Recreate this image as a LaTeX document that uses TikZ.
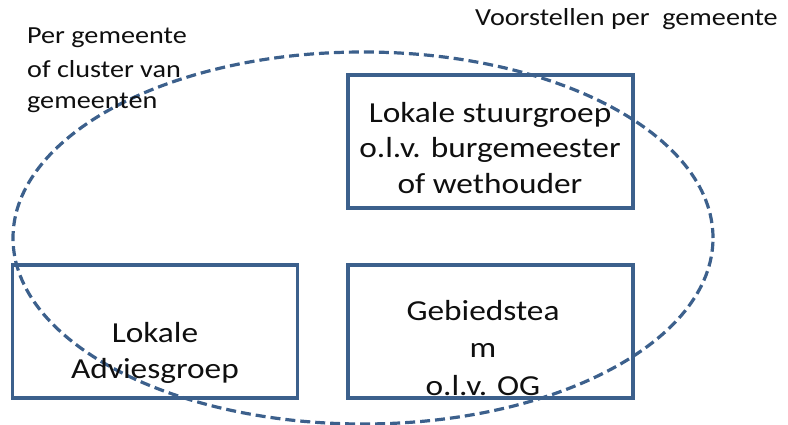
\documentclass[tikz,border=0pt]{standalone}
\usepackage{fontspec}
\setmainfont{Carlito}[FakeStretch=1.15]
\definecolor{frame}{RGB}{60,96,140}
\definecolor{ink}{RGB}{15,15,15}
\begin{document}
\begin{tikzpicture}[x=1pt,y=-1pt,
  boxnode/.style={draw=frame, line width=3.2pt, inner sep=0pt},
  boxtext/.style={anchor=base, inner sep=0pt, font=\fontsize{29}{34}\selectfont, text=ink},
  sidetext/.style={anchor=base west, inner sep=0pt, font=\fontsize{24.5}{28}\selectfont, text=ink}]
\useasboundingbox (0,0) rectangle (788,424);
\draw[frame, line width=3.2pt, dash pattern=on 10pt off 5pt] (363,238) ellipse [x radius=350pt, y radius=186pt];
\node[boxnode, minimum width=285pt, minimum height=133pt] (stuur) at (490.5,141.5) {};
\node[boxnode, minimum width=285pt, minimum height=133pt] (advies) at (155,331.5) {};
\node[boxnode, minimum width=285pt, minimum height=133pt] (gebied) at (490.5,331.5) {};
\node[boxtext] (s1) at (490,122) {Lokale stuurgroep};
\node[boxtext] (s2) at (490,157) {o.l.v. burgemeester};
\node[boxtext] (s3) at (490,193) {of wethouder};
\node[boxtext] (a1) at (155,342) {Lokale};
\node[boxtext] (a2) at (155,378) {Adviesgroep};
\node[boxtext] (g1) at (483,320) {Gebiedstea};
\node[boxtext] (g2) at (483,357) {m};
\node[boxtext] (g3) at (483,395) {o.l.v. OG};
\node[sidetext] (p1) at (27,43) {Per gemeente};
\node[sidetext] (p2) at (27,77) {of cluster van};
\node[sidetext] (p3) at (27,108) {gemeenten};
\node[sidetext] (v1) at (475,25) {Voorstellen per\ \ gemeente};
\end{tikzpicture}
\end{document}
